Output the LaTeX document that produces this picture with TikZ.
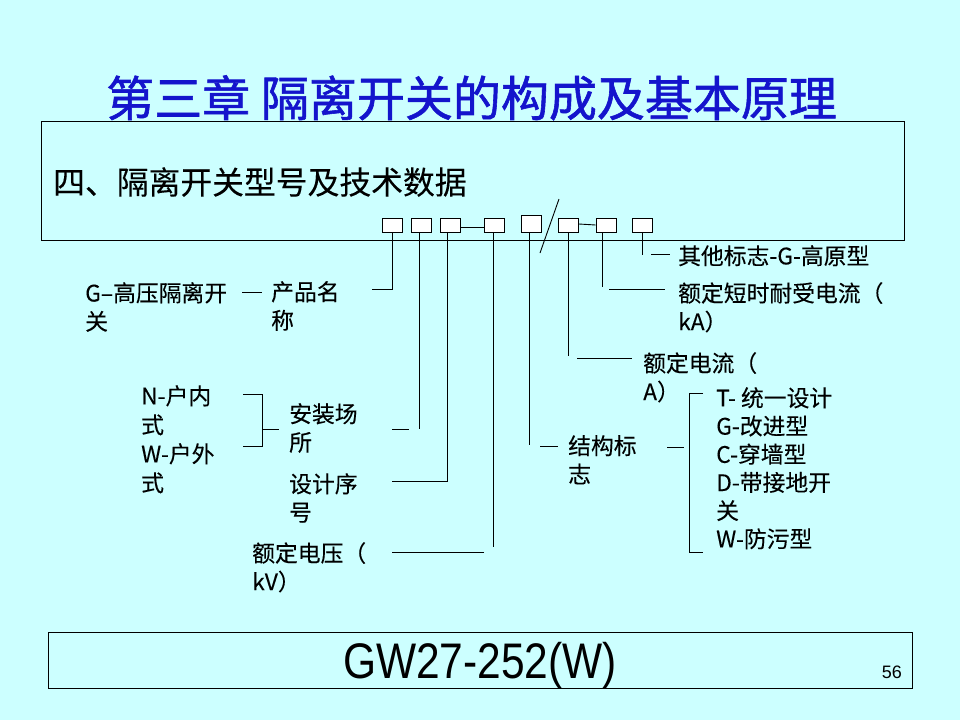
\documentclass[tikz,border=0pt]{standalone}
\usepackage{fontspec}
\setmainfont{Liberation Sans}
\newfontfamily\cjk{Noto Sans CJK SC}
\newfontfamily\cjkbold[FakeBold=1.2]{Noto Sans CJK SC}
\newfontfamily\cjkmid[FakeBold=0.15]{Noto Sans CJK SC}
\definecolor{bgcyan}{RGB}{204,255,255}
\definecolor{titleblue}{RGB}{20,20,204}
\begin{document}
\begin{tikzpicture}[x=1pt,y=-1pt,
  lbl/.style={anchor=north west,inner sep=0pt,align=left,font=\cjkmid\fontsize{22.8}{28.5}\selectfont},
  slot/.style={draw,fill=white,line width=0.8pt,minimum width=20pt,minimum height=14pt,inner sep=0pt},
  ln/.style={line width=0.9pt},
  frame/.style={line width=1pt}]
\useasboundingbox (0,0) rectangle (960,720);
\fill[bgcyan] (0,0) rectangle (960,720);
% title and frames
\node[anchor=north west,inner sep=0pt,text=titleblue,font=\cjkbold\fontsize{48}{50}\selectfont] (title) at (106,75) {第三章 隔离开关的构成及基本原理};
\draw[frame] (41,121) rectangle (904,240);
\node[anchor=north west,inner sep=0pt,font=\cjkmid\fontsize{31.8}{34}\selectfont] (sub) at (53,167) {四、隔离开关型号及技术数据};
\draw[frame] (48,632) rectangle (912,688);
\node[anchor=base,inner sep=0pt,xscale=0.85,font=\fontsize{50}{52}\selectfont] (model) at (480,678) {GW27-252(W)};
\node[anchor=base east,inner sep=0pt,font=\fontsize{18}{20}\selectfont] (page) at (902,678) {56};
% slots
\node[slot] (b1) at (392,225) {};
\node[slot] (b2) at (421,225) {};
\node[slot] (b3) at (450.5,225) {};
\node[slot] (b4) at (494,225) {};
\node[slot,minimum height=17pt] (b5) at (531,223.5) {};
\node[slot] (b6) at (568.5,225) {};
\node[slot] (b7) at (606,225) {};
\node[slot] (b8) at (642.5,225) {};
\draw[ln] ([yshift=-2.5pt]b3.east) -- ([yshift=-2.5pt]b4.west);
\draw[ln] ([yshift=1pt]b6.east) -- (b7.west);
\draw[ln] (559,199) -- (540,253);
% labels
\node[lbl] (gname) at (85,282) {G–高压隔离开\\关};
\node[lbl] (pname) at (271,281) {产品名\\称};
\node[lbl,font=\cjkmid\fontsize{22.8}{29}\selectfont] (nw) at (141,385) {N-户内\\式\\W-户外\\式};
\node[lbl] (site) at (289,403) {安装场\\所};
\node[lbl] (serial) at (289,473) {设计序\\号};
\node[lbl] (volt) at (252,542) {额定电压（\\kV）};
\node[lbl] (other) at (678,245) {其他标志-G-高原型};
\node[lbl] (kacur) at (678,282) {额定短时耐受电流（\\kA）};
\node[lbl] (cur) at (643,352) {额定电流（\\A）};
\node[lbl] (struct) at (568,435) {结构标\\志};
\node[lbl,font=\cjkmid\fontsize{22.8}{28.2}\selectfont] (types) at (716,387) {T- 统一设计\\G-改进型\\C-穿墙型\\D-带接地开\\关\\W-防污型};
% connectors
\draw[ln] (242,292) -- (262,292);
\draw[ln] (b1.south) |- (372,289);
\draw[ln] ([xshift=-2pt]b2.south) -- ([xshift=-2pt]b2.south |- 0,429);
\draw[ln] (392,429) -- (409,429);
\draw[ln] ([xshift=-3.5pt]b3.south) |- (392,481);
\draw[ln] ([xshift=-1pt]b4.south) -- ([xshift=-1pt]b4.south |- 0,547);
\draw[ln] (484,552) -- (392,552);
\draw[ln] ([xshift=-2pt]b5.south) -- ([xshift=-2pt]b5.south |- 0,445);
\draw[ln] (540,446) -- (558,446);
\draw[ln] (b6.south) -- (b6.south |- 0,356);
\draw[ln] (577,358) -- (632,358);
\draw[ln] ([xshift=-3.5pt]b7.south) -- ([xshift=-3.5pt]b7.south |- 0,287);
\draw[ln] (609,289) -- (665,289);
\draw[ln] (b8.south) -- (b8.south |- 0,255);
\draw[ln] (651,254) -- (670,254);
% brackets
\draw[ln] (243,394) -| (262,446) -- (243,446);
\draw[ln] (262,429) -- (279,429);
\draw[ln] (667,447) -- (684,447);
\draw[ln] (703,393) -| (689,552) -- (703,552);
\end{tikzpicture}
\end{document}
